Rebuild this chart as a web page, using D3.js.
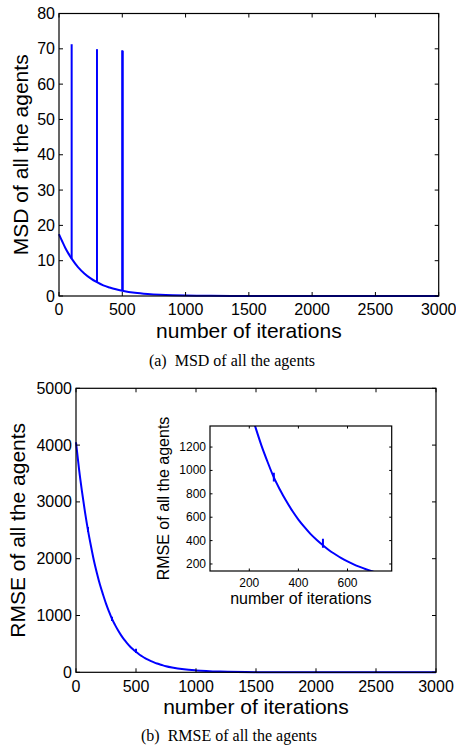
<!DOCTYPE html>
<html>
<head>
<meta charset="utf-8">
<script src="https://cdn.jsdelivr.net/npm/d3@7"></script>
<style>
  body { margin: 0; background: #fff; }
  svg text { font-family: "Liberation Sans", Arial, sans-serif; fill: #000; }
  .caption { font-family: "Liberation Serif", "Times New Roman", serif; }
</style>
</head>
<body>
<svg id="chart" width="456" height="748"></svg>
<script>
// ---- data ----
var xTicks = [0, 500, 1000, 1500, 2000, 2500, 3000]
var msdTicks = [0, 10, 20, 30, 40, 50, 60, 70, 80]
var rmseTicks = [0, 1000, 2000, 3000, 4000, 5000]
var insetXTicks = [200, 400, 600]
var insetYTicks = [200, 400, 600, 800, 1000, 1200]

// MSD curve (iteration, value)
var msdIter = [0, 25, 50, 75, 100, 150, 200, 250, 300, 350, 400, 450, 500, 600, 700, 800, 900, 1000, 1200, 1500, 2000, 3000]
var msdVal = [17.5, 15.5, 13.6, 12.0, 10.6, 8.2, 6.4, 5.0, 3.9, 3.0, 2.4, 1.9, 1.5, 0.9, 0.55, 0.33, 0.2, 0.12, 0.05, 0.02, 0.0, 0.0]
// MSD spikes
var msdSpikeIter = [100, 300, 500, 503]
var msdSpikeLow = [10.6, 3.9, 1.5, 1.45]
var msdSpikeHigh = [71.3, 69.9, 69.6, 69.4]

// RMSE curve (iteration, value)
var rmseIter = [0, 25, 50, 75, 100, 125, 150, 175, 200, 225, 250, 275, 300, 325, 350, 375, 400, 425, 450, 475, 500, 525, 550, 575, 600, 625, 650, 675, 700, 725, 750, 800, 900, 1000, 1200, 1500, 2000, 3000]
var rmseVal = [4050, 3580, 3180, 2820, 2500, 2220, 1960, 1740, 1540, 1370, 1210, 1070, 940, 835, 740, 655, 580, 515, 455, 405, 360, 318, 283, 250, 222, 197, 175, 155, 138, 122, 108, 85, 52, 33, 13, 3, 0.5, 0]
// RMSE spikes
var rmseSpikeIter = [100, 300, 500]
var rmseSpikeLow = [2470, 905, 338]
var rmseSpikeHigh = [2560, 980, 415]

var svg = d3.select('#chart')

function drawAxes(g, x, y, xt, yt, opt) {
  var x0 = x.range()[0], x1 = x.range()[1]
  var y0 = y.range()[0], y1 = y.range()[1]
  var tl = opt.tickLen

  // inward ticks on all four sides
  xt.forEach(function(t) {
    g.append('line').attr('x1', x(t)).attr('x2', x(t)).attr('y1', y0).attr('y2', y0 - tl).attr('stroke', '#000')
    g.append('line').attr('x1', x(t)).attr('x2', x(t)).attr('y1', y1).attr('y2', y1 + tl).attr('stroke', '#000')
    g.append('text')
      .attr('x', x(t)).attr('y', y0 + opt.xLabOff)
      .attr('text-anchor', 'middle')
      .attr('dominant-baseline', 'central')
      .style('font-size', opt.tickFont + 'px')
      .text(t)
  })
  yt.forEach(function(t) {
    g.append('line').attr('x1', x0).attr('x2', x0 + tl).attr('y1', y(t)).attr('y2', y(t)).attr('stroke', '#000')
    g.append('line').attr('x1', x1).attr('x2', x1 - tl).attr('y1', y(t)).attr('y2', y(t)).attr('stroke', '#000')
    g.append('text')
      .attr('x', x0 - 4).attr('y', y(t))
      .attr('text-anchor', 'end')
      .attr('dominant-baseline', 'central')
      .style('font-size', opt.tickFont + 'px')
      .text(t)
  })
  g.append('rect')
    .attr('x', x0).attr('y', y1)
    .attr('width', x1 - x0).attr('height', y0 - y1)
    .attr('fill', 'none').attr('stroke', '#000').attr('stroke-width', 1.2)

  g.append('text')
    .attr('x', (x0 + x1) / 2).attr('y', opt.xTitleY)
    .attr('text-anchor', 'middle')
    .attr('dominant-baseline', 'central')
    .style('font-size', opt.titleFont + 'px')
    .text(opt.xTitle)
  g.append('text')
    .attr('transform', 'translate(' + opt.yTitleX + ',' + ((y0 + y1) / 2) + ') rotate(-90)')
    .attr('text-anchor', 'middle')
    .attr('dominant-baseline', 'central')
    .style('font-size', opt.titleFont + 'px')
    .text(opt.yTitle)
}

function drawSeries(g, x, y, iters, vals, sIter, sLo, sHi, clipId) {
  var pts = iters.map(function(d, i) { return [d, vals[i]] })
  var line = d3.line()
    .x(function(d) { return x(d[0]) })
    .y(function(d) { return y(d[1]) })
    .curve(d3.curveMonotoneX)
  var lg = g.append('g')
  if (clipId) lg.attr('clip-path', 'url(#' + clipId + ')')
  lg.append('path')
    .datum(pts)
    .attr('d', line)
    .attr('fill', 'none')
    .attr('stroke', '#0000ff')
    .attr('stroke-width', 2)
  sIter.forEach(function(s, i) {
    lg.append('line')
      .attr('x1', x(s)).attr('x2', x(s))
      .attr('y1', y(sLo[i])).attr('y2', y(sHi[i]))
      .attr('stroke', '#0000ff')
      .attr('stroke-width', 2)
  })
}

// ---- (a) MSD ----
var xA = d3.scaleLinear().domain([0, 3000]).range([59, 438.7])
var yA = d3.scaleLinear().domain([0, 80]).range([296, 13.5])
var gA = svg.append('g')
drawSeries(gA, xA, yA, msdIter, msdVal, msdSpikeIter, msdSpikeLow, msdSpikeHigh, null)
drawAxes(gA, xA, yA, xTicks, msdTicks, {
  tickLen: 4, tickFont: 16, titleFont: 21, xLabOff: 13.5,
  xTitle: 'number of iterations', xTitleY: 330,
  yTitle: 'MSD of all the agents', yTitleX: 20
})
svg.append('text').attr('class', 'caption')
  .attr('x', 232).attr('y', 360)
  .attr('text-anchor', 'middle').attr('dominant-baseline', 'central')
  .style('font-size', '16px')
  .text('(a)\u00a0\u00a0MSD of all the agents')

// ---- (b) RMSE ----
var xB = d3.scaleLinear().domain([0, 3000]).range([76, 436])
var yB = d3.scaleLinear().domain([0, 5000]).range([672.3, 388.3])
var gB = svg.append('g')
drawSeries(gB, xB, yB, rmseIter, rmseVal, rmseSpikeIter, rmseSpikeLow, rmseSpikeHigh, null)
drawAxes(gB, xB, yB, xTicks, rmseTicks, {
  tickLen: 4, tickFont: 16, titleFont: 21, xLabOff: 14,
  xTitle: 'number of iterations', xTitleY: 706,
  yTitle: 'RMSE of all the agents', yTitleX: 17
})
svg.append('text').attr('class', 'caption')
  .attr('x', 229).attr('y', 735.5)
  .attr('text-anchor', 'middle').attr('dominant-baseline', 'central')
  .style('font-size', '16px')
  .text('(b)\u00a0\u00a0RMSE of all the agents')

// ---- inset ----
var xI = d3.scaleLinear().domain([40, 780]).range([210, 391.7])
var yI = d3.scaleLinear().domain([140, 1380]).range([571, 426])
var gI = svg.append('g')
gI.append('rect')
  .attr('x', 210).attr('y', 426).attr('width', 181.7).attr('height', 145)
  .attr('fill', '#fff')
svg.append('defs').append('clipPath').attr('id', 'insetClip')
  .append('rect').attr('x', 210).attr('y', 426).attr('width', 181.7).attr('height', 145)
drawSeries(gI, xI, yI, rmseIter, rmseVal, rmseSpikeIter, rmseSpikeLow, rmseSpikeHigh, 'insetClip')
drawAxes(gI, xI, yI, insetXTicks, insetYTicks, {
  tickLen: 2.5, tickFont: 12, titleFont: 16, xLabOff: 12,
  xTitle: 'number of iterations', xTitleY: 598.5,
  yTitle: 'RMSE of all the agents', yTitleX: 163.5
})
</script>
</body>
</html>
